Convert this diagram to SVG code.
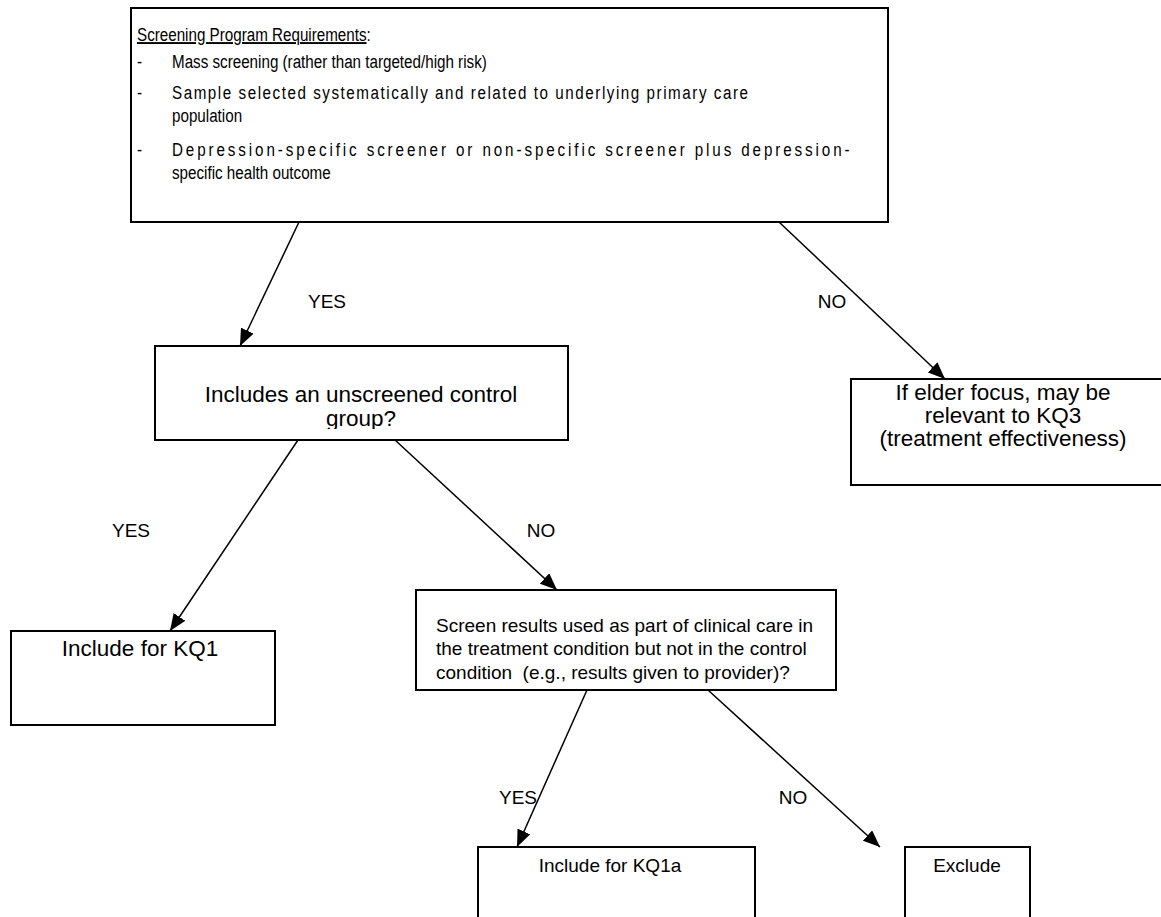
<svg xmlns="http://www.w3.org/2000/svg" width="1161" height="917" viewBox="0 0 1161 917">
<style>
.box{fill:#fff;stroke:#000;stroke-width:2}
.t{font-family:"Liberation Sans",Arial,sans-serif;font-size:19px;fill:#000}
.big{font-size:22.5px}
.c{text-anchor:middle}
.ln{stroke:#000;stroke-width:1.5;fill:none;marker-end:url(#ah)}
</style>
<defs>
<marker id="ah" markerUnits="userSpaceOnUse" markerWidth="18" markerHeight="14" refX="17" refY="7" orient="auto">
<path d="M0,0 L17,7 L0,14 z" fill="#000"/>
</marker>
<clipPath id="clipMid"><rect x="155" y="346" width="413" height="83"/></clipPath>
</defs>
<rect width="1161" height="917" fill="#fff"/>
<g id="connectors">
<line class="ln" x1="299" y1="222" x2="240" y2="346"/>
<line class="ln" x1="779" y1="222" x2="945" y2="379"/>
<line class="ln" x1="298" y1="440" x2="170" y2="631"/>
<line class="ln" x1="395" y1="440" x2="557" y2="590"/>
<line class="ln" x1="587" y1="690" x2="517" y2="847"/>
<line class="ln" x1="708" y1="690" x2="880" y2="847"/>
</g>
<g id="labels">
<text class="t c" x="327" y="308">YES</text>
<text class="t c" x="832" y="308">NO</text>
<text class="t c" x="131" y="537">YES</text>
<text class="t c" x="541" y="537">NO</text>
<text class="t c" x="518" y="804">YES</text>
<text class="t c" x="793" y="804">NO</text>
</g>
<g id="requirements">
<rect class="box" x="131" y="8" width="757" height="214"/>
<g transform="translate(137,0) scale(0.8,1)">
<text class="t" x="0" y="41"><tspan text-decoration="underline">Screening Program Requirements</tspan>:</text>
<text class="t" x="0" y="68">-</text>
<text class="t" x="43.75" y="68">Mass screening (rather than targeted/high risk)</text>
<text class="t" x="0" y="99">-</text>
<text class="t" x="43.75" y="99" textLength="720" lengthAdjust="spacing">Sample selected systematically and related to underlying primary care</text>
<text class="t" x="43.75" y="122">population</text>
<text class="t" x="0" y="156">-</text>
<text class="t" x="43.75" y="156" textLength="847" lengthAdjust="spacing">Depression-specific screener or non-specific screener plus depression-</text>
<text class="t" x="43.75" y="179">specific health outcome</text>
</g>
</g>
<g id="control-group">
<rect class="box" x="155" y="346" width="413" height="94"/>
<g clip-path="url(#clipMid)">
<text class="t big c" x="361" y="402">Includes an unscreened control</text>
<text class="t big c" x="361" y="426">group?</text>
</g>
</g>
<g id="elder">
<rect class="box" x="851" y="379" width="320" height="106"/>
<text class="t big c" x="1003" y="400">If elder focus, may be</text>
<text class="t big c" x="1003" y="423">relevant to KQ3</text>
<text class="t big c" x="1003" y="446">(treatment effectiveness)</text>
</g>
<g id="kq1">
<rect class="box" x="11" y="631" width="264" height="94"/>
<text class="t big c" x="140" y="656">Include for KQ1</text>
</g>
<g id="screen-results">
<rect class="box" x="416" y="590" width="420" height="100"/>
<text class="t" x="436" y="632">Screen results used as part of clinical care in</text>
<text class="t" x="436" y="655">the treatment condition but not in the control</text>
<text class="t" x="436" y="679" xml:space="preserve">condition  (e.g., results given to provider)?</text>
</g>
<g id="kq1a">
<rect class="box" x="478" y="847" width="277" height="90"/>
<text class="t c" x="610" y="872">Include for KQ1a</text>
</g>
<g id="exclude">
<rect class="box" x="905" y="847" width="125" height="90"/>
<text class="t c" x="967" y="872">Exclude</text>
</g>
</svg>
